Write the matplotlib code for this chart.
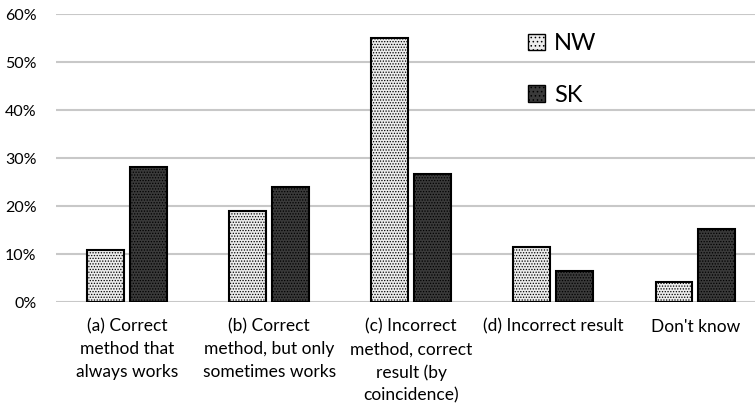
import matplotlib
matplotlib.use('Agg')
import matplotlib.pyplot as plt
import numpy as np
from matplotlib.patches import Patch

plt.rcParams['font.family'] = ['Lato', 'DejaVu Sans']
plt.rcParams['hatch.linewidth'] = 0.6

categories = ['(a) Correct\nmethod that\nalways works',
              '(b) Correct\nmethod, but only\nsometimes works',
              '(c) Incorrect\nmethod, correct\nresult (by\ncoincidence)',
              '(d) Incorrect result',
              "Don't know"]
nw_values = [0.108, 0.189, 0.550, 0.114, 0.041]
sk_values = [0.281, 0.239, 0.267, 0.065, 0.152]
series_names = ['NW', 'SK']
y_ticks = [0, 0.1, 0.2, 0.3, 0.4, 0.5, 0.6]

fig = plt.figure(figsize=(7.55, 4.04), dpi=100)
ax = fig.add_axes([56/755, 102/404, 1 - 56/755, 288/404])

x = np.arange(len(categories))
w = 0.26
off = 0.15
ax.bar(x - off, nw_values, w, facecolor='#ececec', edgecolor='black',
       hatch='......', linewidth=1.5, zorder=3)
ax.bar(x + off, sk_values, w, facecolor='#3a3a3a', edgecolor='black',
       hatch='......', linewidth=1.5, zorder=3)

ax.set_xlim(-0.5, 4.42)
ax.set_ylim(0, 0.6)
ax.set_yticks(y_ticks)
ax.set_yticklabels(['%d%%' % round(v * 100) for v in y_ticks], fontsize=11.5)
ax.set_xticks(x)
ax.set_xticklabels(categories, fontsize=12.5, linespacing=1.5, va='top')
ax.tick_params(length=0)
ax.tick_params(axis='x', pad=12)
ax.tick_params(axis='y', pad=14)
for s in ax.spines.values():
    s.set_visible(False)
ax.yaxis.grid(True, color='#c8c8c8', linewidth=1.5, zorder=0)
ax.set_axisbelow(True)

handles = [Patch(facecolor='#ececec', edgecolor='black', hatch='....'),
           Patch(facecolor='#3a3a3a', edgecolor='black', hatch='....')]
leg = fig.legend(handles, series_names, loc='upper left',
                 bbox_to_anchor=(507/755, 1 - 12/404), frameon=False,
                 fontsize=17, handlelength=0.7, handleheight=0.7,
                 handletextpad=0.4, labelspacing=1.3)

fig.savefig('out.png', dpi=100)
